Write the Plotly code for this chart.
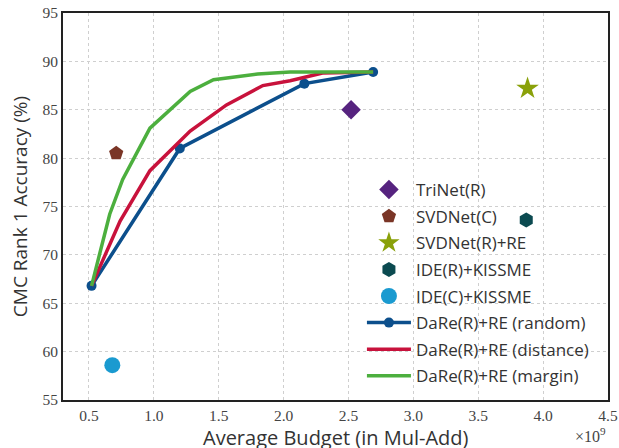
import plotly.graph_objects as go

# Data (budget in units of 1e9 Mul-Add, accuracy in %)
random_x = [0.52, 1.20, 2.16, 2.69]
random_y = [66.8, 81.0, 87.7, 88.9]

distance_x = [0.52, 0.74, 0.97, 1.28, 1.56, 1.84, 2.05, 2.30, 2.69]
distance_y = [66.8, 73.5, 78.7, 82.8, 85.5, 87.5, 88.0, 88.8, 88.9]

margin_x = [0.52, 0.66, 0.76, 0.97, 1.28, 1.46, 1.80, 2.05, 2.69]
margin_y = [66.8, 74.2, 77.8, 83.1, 86.9, 88.1, 88.7, 88.9, 88.9]

methods = ["TriNet(R)", "SVDNet(C)", "SVDNet(R)+RE", "IDE(R)+KISSME", "IDE(C)+KISSME"]
method_x = [2.52, 0.71, 3.88, 3.87, 0.68]
method_y = [85.0, 80.5, 87.2, 73.6, 58.6]
method_symbols = ["diamond", "pentagon", "star", "hexagon", "circle"]
method_colors = ["#56237f", "#7a3526", "#8aa10a", "#0b4a50", "#1a9ad0"]
method_sizes = [15, 15, 17, 15, 16]

x_ticks = [0.5, 1.0, 1.5, 2.0, 2.5, 3.0, 3.5, 4.0, 4.5]
y_ticks = [55, 60, 65, 70, 75, 80, 85, 90, 95]

x_title = "Average Budget (in Mul-Add)"
y_title = "CMC Rank 1 Accuracy (%)"

fig = go.Figure()

for i, (name, x, y, sym, col, sz) in enumerate(zip(methods, method_x, method_y, method_symbols, method_colors, method_sizes)):
    fig.add_trace(go.Scatter(x=[x], y=[y], mode="markers", name=name, legendgroup=f"g{i}",
                             marker=dict(symbol=sym, color=col, size=sz, line=dict(width=0))))

fig.add_trace(go.Scatter(x=random_x, y=random_y, mode="lines+markers", name="DaRe(R)+RE (random)",
                         legendgroup="g5",
                         line=dict(color="#0c4f8c", width=3.5),
                         marker=dict(size=10, color="#0c4f8c")))
fig.add_trace(go.Scatter(x=distance_x, y=distance_y, mode="lines", name="DaRe(R)+RE (distance)",
                         legendgroup="g6",
                         line=dict(color="#c8123c", width=3.5)))
fig.add_trace(go.Scatter(x=margin_x, y=margin_y, mode="lines", name="DaRe(R)+RE (margin)",
                         legendgroup="g7",
                         line=dict(color="#4caf3e", width=3.5)))

serif = "Liberation Serif"
sans = "Open Sans"

fig.update_layout(
    width=619, height=448,
    margin=dict(l=63, r=11, t=13, b=48),
    plot_bgcolor="white", paper_bgcolor="white",
    showlegend=True,
    legend=dict(x=0.5485, y=0.589, xanchor="left", yanchor="top",
                bgcolor="rgba(0,0,0,0)", borderwidth=0,
                font=dict(family=sans, size=17, color="#333"),
                itemwidth=44, tracegroupgap=1.5),
    xaxis=dict(range=[0.3, 4.5], tickvals=x_ticks, ticktext=[f"{v:.1f}" for v in x_ticks],
               automargin=False,
               showgrid=True, gridcolor="#cfcfcf", griddash="dot", gridwidth=1,
               showline=True, linecolor="#222", linewidth=2, mirror=True,
               ticks="", zeroline=False,
               tickfont=dict(family=serif, size=15.5, color="#444")),
    yaxis=dict(range=[55, 95], tickvals=y_ticks,
               automargin=False,
               showgrid=True, gridcolor="#cfcfcf", griddash="dot", gridwidth=1,
               showline=True, linecolor="#222", linewidth=2, mirror=True,
               ticks="", zeroline=False,
               tickfont=dict(family=serif, size=15.5, color="#444"),
               title=dict(text=y_title, standoff=10,
                          font=dict(family=sans, size=19, color="#333"))),
    annotations=[
        dict(text=x_title, xref="paper", yref="paper", x=0.5, y=-0.097,
             xanchor="center", yanchor="middle", showarrow=False,
             font=dict(family=sans, size=20, color="#333")),
        dict(text="×10<sup>9</sup>", xref="paper", yref="paper", x=1.0, y=-0.06,
             xanchor="right", yanchor="top", showarrow=False,
             font=dict(family=serif, size=16, color="#444")),
    ],
)

fig.write_html("out.html", config={"displayModeBar": False},
               post_script="document.body.style.margin='0';document.body.style.overflow='hidden';")
